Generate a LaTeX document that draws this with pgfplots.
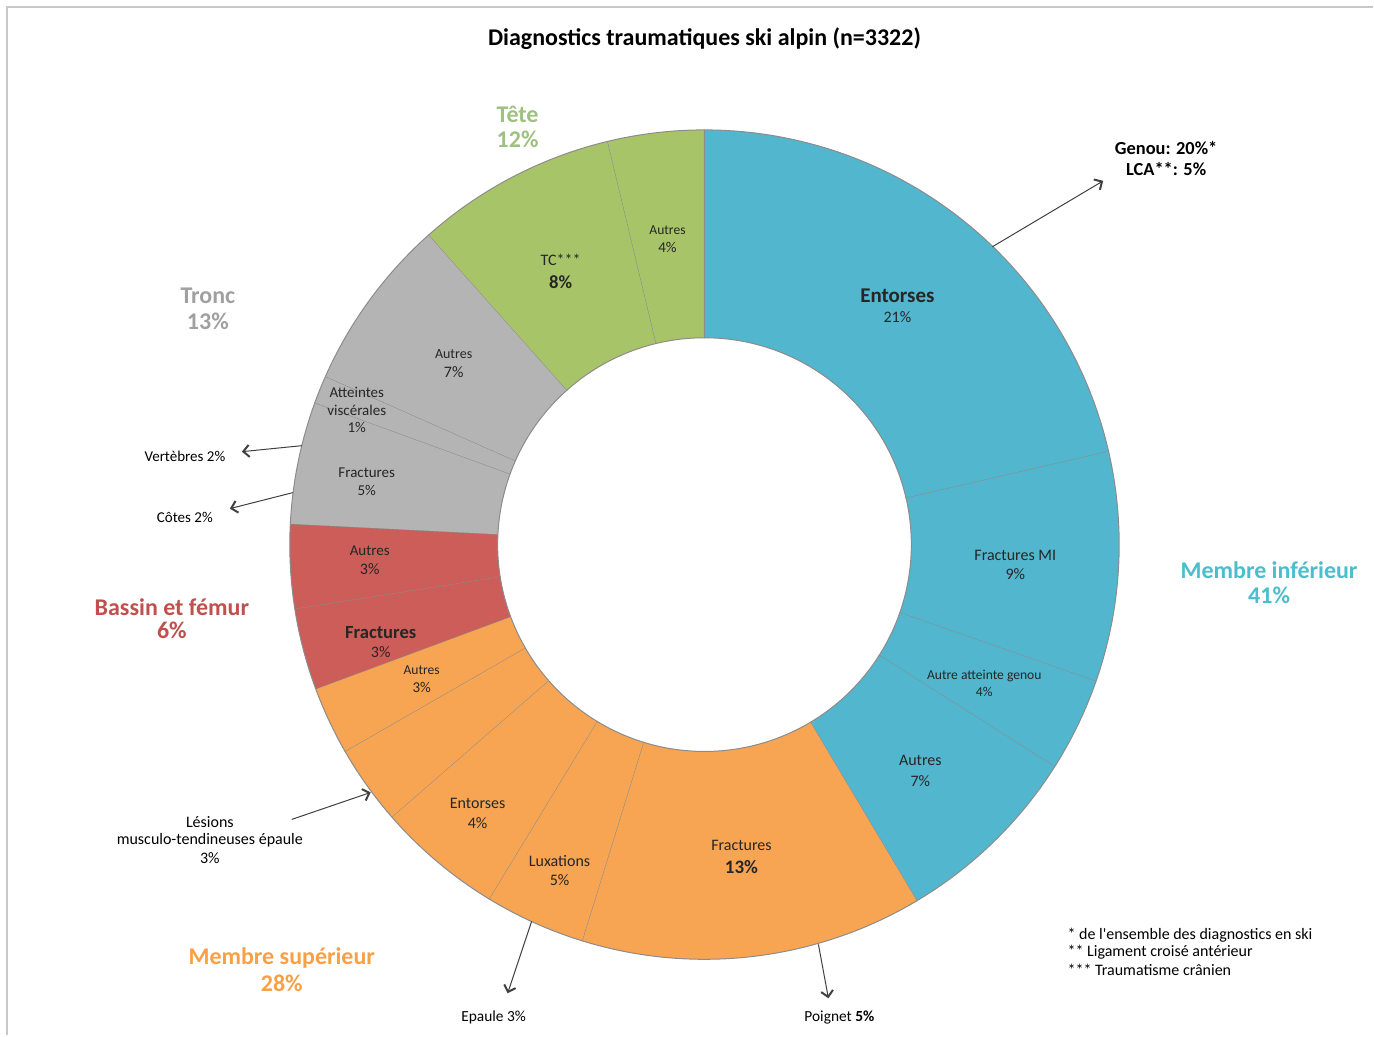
\documentclass[border=0pt]{standalone}
\usepackage{fontspec}
\setmainfont{Carlito}
\usepackage{pgfplots}
\pgfplotsset{compat=1.18}
\usetikzlibrary{arrows.meta}
\definecolor{cMI}{RGB}{82,182,206}
\definecolor{cMS}{RGB}{247,165,83}
\definecolor{cBF}{RGB}{204,93,88}
\definecolor{cTR}{RGB}{180,180,180}
\definecolor{cTE}{RGB}{168,196,104}
\definecolor{tMI}{RGB}{75,190,205}
\definecolor{tMS}{RGB}{247,160,70}
\definecolor{tBF}{RGB}{192,80,77}
\definecolor{tTR}{RGB}{160,160,160}
\definecolor{tTE}{RGB}{158,192,128}
\definecolor{segline}{RGB}{140,140,140}
\definecolor{frame}{RGB}{200,200,200}
\newcommand{\fs}[1]{\fontsize{#1}{#1}\selectfont}
\def\cx{705}\def\cy{545}\def\Ro{415}\def\Ri{207}
\begin{document}
\begin{tikzpicture}[every node/.append style={yshift=-0.7pt}]
\begin{axis}[scale only axis, width=687pt, height=518pt,
  xmin=0, xmax=1374, ymin=0, ymax=1036, y dir=reverse,
  hide axis, clip=false]
\path (axis cs:0,0) rectangle (axis cs:1374,1036);
% frame
\draw[frame, line width=1pt] (axis cs:7,1036) -- (axis cs:7,7) -- (axis cs:1374,7);
% donut slices: share in percent, clockwise from top
\def\cum{0}
\foreach \v/\c in {21.4/cMI, 8.95/cMI, 3.65/cMI, 7.45/cMI,
                   13.32/cMS, 3.93/cMS, 4.9/cMS, 3.1/cMS, 2.65/cMS,
                   3.18/cBF, 3.27/cBF,
                   4.76/cTR, 1.09/cTR, 6.78/cTR,
                   7.82/cTE, 3.75/cTE}{
  \pgfmathsetmacro\a{\cum/100}
  \pgfmathsetmacro\b{(\cum+\v)/100}
  \edef\temp{\noexpand\addplot[fill=\c, draw=segline, line width=0.5pt,
      domain=0:201, samples=202, variable=\noexpand\myt]
    ({\cx + (\noexpand\myt<100.5 ? \Ro : \Ri)*cos(90-360*(\a+(\b-\a)*(\noexpand\myt<100.5 ? \noexpand\myt : 201-\noexpand\myt)/100))},
     {\cy - (\noexpand\myt<100.5 ? \Ro : \Ri)*sin(90-360*(\a+(\b-\a)*(\noexpand\myt<100.5 ? \noexpand\myt : 201-\noexpand\myt)/100))});}
  \temp
  \pgfmathsetmacro\n{\cum+\v}\xdef\cum{\n}
}
% title
\node[font=\fs{12}\bfseries] at (axis cs:705,37) {Diagnostics traumatiques ski alpin (n=3322)};
% group labels
\node[font=\fs{12}\bfseries, text=tTE] at (axis cs:518,113) {Tête};
\node[font=\fs{12}\bfseries, text=tTE] at (axis cs:518,138) {12\%};
\node[font=\fs{12}\bfseries, text=tTR] at (axis cs:208,295) {Tronc};
\node[font=\fs{12}\bfseries, text=tTR] at (axis cs:208,320) {13\%};
\node[font=\fs{12}\bfseries, text=tMI] at (axis cs:1270,569) {Membre inférieur};
\node[font=\fs{12}\bfseries, text=tMI] at (axis cs:1270,594) {41\%};
\node[font=\fs{12}\bfseries, text=tBF] at (axis cs:172,606) {Bassin et fémur};
\node[font=\fs{12}\bfseries, text=tBF] at (axis cs:172,629) {6\%};
\node[font=\fs{12}\bfseries, text=tMS] at (axis cs:282,957) {Membre supérieur};
\node[font=\fs{12}\bfseries, text=tMS] at (axis cs:282,983) {28\%};
% segment labels
\begin{scope}[every node/.append style={text=black!85}]
\node[font=\fs{10.5}\bfseries] at (axis cs:898,295) {Entorses};
\node[font=\fs{8}] at (axis cs:898,316) {21\%};
\node[font=\fs{8}] at (axis cs:1016,554) {Fractures MI};
\node[font=\fs{8}] at (axis cs:1016,573) {9\%};
\node[font=\fs{6.8}] at (axis cs:985,675) {Autre atteinte genou};
\node[font=\fs{6.8}] at (axis cs:985,691) {4\%};
\node[font=\fs{8}] at (axis cs:921,760) {Autres};
\node[font=\fs{8}] at (axis cs:921,780) {7\%};
\node[font=\fs{8}] at (axis cs:742,845) {Fractures};
\node[font=\fs{9.5}\bfseries] at (axis cs:742,866) {13\%};
\node[font=\fs{8}] at (axis cs:560,860) {Luxations};
\node[font=\fs{8}] at (axis cs:560,879) {5\%};
\node[font=\fs{8}] at (axis cs:478,803) {Entorses};
\node[font=\fs{8}] at (axis cs:478,822) {4\%};
\node[font=\fs{6.8}] at (axis cs:422,669) {Autres};
\node[font=\fs{7.5}] at (axis cs:422,687) {3\%};
\node[font=\fs{9.3}\bfseries] at (axis cs:381,632) {Fractures};
\node[font=\fs{8}] at (axis cs:381,651) {3\%};
\node[font=\fs{7.5}] at (axis cs:370,550) {Autres};
\node[font=\fs{8}] at (axis cs:370,568) {3\%};
\node[font=\fs{7.5}] at (axis cs:367,472) {Fractures};
\node[font=\fs{7.5}] at (axis cs:367,489) {5\%};
\node[font=\fs{7.5}] at (axis cs:357,391) {Atteintes};
\node[font=\fs{7.5}] at (axis cs:357,409) {viscérales};
\node[font=\fs{7.5}] at (axis cs:357,426) {1\%};
\node[font=\fs{7}] at (axis cs:454,353) {Autres};
\node[font=\fs{8}] at (axis cs:454,371) {7\%};
\node[font=\fs{8}] at (axis cs:561,259) {TC***};
\node[font=\fs{9.3}\bfseries] at (axis cs:561,281) {8\%};
\node[font=\fs{6.8}] at (axis cs:668,229) {Autres};
\node[font=\fs{7.5}] at (axis cs:668,246) {4\%};
\end{scope}
% annotations
\node[font=\fs{9.2}\bfseries] at (axis cs:1167,147) {Genou: 20\%*};
\node[font=\fs{9.2}\bfseries] at (axis cs:1167,168) {LCA**: 5\%};
\tikzset{ann/.style={draw=black!75, line width=0.5pt, -{Straight Barb[length=3pt,width=6pt,line width=1pt]}}}
\draw[ann] (axis cs:993,247) -- (axis cs:1104,181);
\draw[ann] (axis cs:302,446) -- (axis cs:242,452);
\draw[ann] (axis cs:293,493) -- (axis cs:230,509);
\draw[ann] (axis cs:292,820) -- (axis cs:371,793);
\draw[ann] (axis cs:532,922) -- (axis cs:508,994);
\draw[ann] (axis cs:819,945) -- (axis cs:829,999);
\node[font=\fs{7.5}] at (axis cs:185,455) {Vertèbres 2\%};
\node[font=\fs{7.5}] at (axis cs:185,516) {Côtes 2\%};
\node[font=\fs{8}] at (axis cs:210,821) {Lésions};
\node[font=\fs{8}] at (axis cs:210,839) {musculo-tendineuses épaule};
\node[font=\fs{8}] at (axis cs:210,857) {3\%};
\node[font=\fs{7.7}] at (axis cs:494,1017) {Epaule 3\%};
\node[font=\fs{7.7}] at (axis cs:840,1017) {Poignet \textbf{5\%}};
% footnotes
\node[font=\fs{8}, anchor=west, inner sep=0pt] at (axis cs:1068,934) {* de l\textquotesingle ensemble des diagnostics en ski};
\node[font=\fs{8}, anchor=west, inner sep=0pt] at (axis cs:1068,951) {** Ligament croisé antérieur};
\node[font=\fs{8}, anchor=west, inner sep=0pt] at (axis cs:1068,969) {*** Traumatisme crânien};
\end{axis}
\end{tikzpicture}
\end{document}
